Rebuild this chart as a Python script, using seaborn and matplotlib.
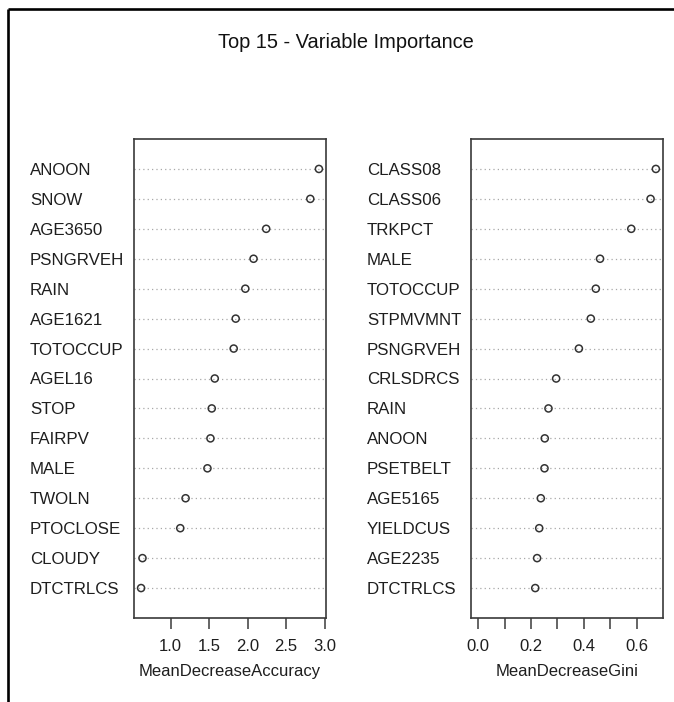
import matplotlib
matplotlib.use("Agg")
import matplotlib.pyplot as plt
from matplotlib.lines import Line2D
import seaborn as sns
import pandas as pd

acc_vars = ["ANOON", "SNOW", "AGE3650", "PSNGRVEH", "RAIN", "AGE1621", "TOTOCCUP",
            "AGEL16", "STOP", "FAIRPV", "MALE", "TWOLN", "PTOCLOSE", "CLOUDY", "DTCTRLCS"]
acc_vals = [2.926, 2.814, 2.241, 2.077, 1.970, 1.845, 1.819, 1.573, 1.534, 1.517,
            1.478, 1.194, 1.125, 0.634, 0.616]

gini_vars = ["CLASS08", "CLASS06", "TRKPCT", "MALE", "TOTOCCUP", "STPMVMNT", "PSNGRVEH",
             "CRLSDRCS", "RAIN", "ANOON", "PSETBELT", "AGE5165", "YIELDCUS", "AGE2235", "DTCTRLCS"]
gini_vals = [0.672, 0.652, 0.579, 0.461, 0.445, 0.426, 0.381, 0.295, 0.266, 0.252,
             0.251, 0.237, 0.231, 0.223, 0.216]

acc_ticks = [1.0, 1.5, 2.0, 2.5, 3.0]
acc_ticklabels = ["1.0", "1.5", "2.0", "2.5", "3.0"]
gini_ticks = [0.0, 0.1, 0.2, 0.3, 0.4, 0.5, 0.6]
gini_ticklabels = ["0.0", "", "0.2", "", "0.4", "", "0.6"]

title = "Top 15 - Variable Importance"

sns.set_style("white")
plt.rcParams["font.family"] = ["Liberation Sans", "DejaVu Sans"]

W, H = 674, 702
fig = plt.figure(figsize=(W / 100, H / 100), dpi=100)
fig.patch.set_facecolor("white")

txt_color = "#1e1e1e"
box_color = "#3a3a3a"


def panel(left, names, vals, ticks, ticklabels, xlabel, xlim):
    ax = fig.add_axes([left / W, 1 - 618 / H, 192 / W, 479 / H])
    df = pd.DataFrame({"var": names, "val": vals})
    sns.scatterplot(data=df, x="val", y="var", ax=ax, marker="o", s=26,
                    color="none", edgecolor="#333333", linewidth=1.1, zorder=3)
    ax.set_ylim(len(names), -1)
    ax.set_xlim(*xlim)
    ax.set_xticks(ticks)
    ax.set_xticklabels(ticklabels)
    ax.set_xlabel(xlabel, fontsize=12, color=txt_color, labelpad=7.5)
    ax.set_ylabel("")
    ax.yaxis.grid(True, linestyle=(0, (1, 2.5)), color="#a8a8a8", linewidth=0.9)
    ax.xaxis.grid(False)
    ax.set_axisbelow(True)
    for sp in ax.spines.values():
        sp.set_visible(True)
        sp.set_color(box_color)
        sp.set_linewidth(1.2)
    ax.tick_params(axis="x", direction="out", length=8, width=1.1, color=box_color,
                   pad=7, labelsize=12, labelcolor=txt_color, bottom=True)
    ax.tick_params(axis="y", length=0, pad=75, labelsize=12.2, labelcolor=txt_color)
    for lab in ax.get_yticklabels():
        lab.set_horizontalalignment("left")
    return ax


panel(134, acc_vars, acc_vals, acc_ticks, acc_ticklabels, "MeanDecreaseAccuracy",
      (0.524, 3.018))
panel(471, gini_vars, gini_vals, gini_ticks, gini_ticklabels, "MeanDecreaseGini",
      (-0.0269, 0.699))

fig.text(345.5 / W, 1 - 48 / H, title, ha="center", va="baseline",
         fontsize=14.4, color="#111111")

# outer frame (only top and left edges visible in the screenshot)
fig.add_artist(Line2D([8.2 / W, 8.2 / W], [0, 1 - 8.5 / H], transform=fig.transFigure,
                      color="black", linewidth=1.9, solid_capstyle="butt"))
fig.add_artist(Line2D([8.2 / W, 1], [1 - 8.5 / H, 1 - 8.5 / H], transform=fig.transFigure,
                      color="black", linewidth=1.9, solid_capstyle="butt"))

fig.savefig("out.png", dpi=100, facecolor="white")
